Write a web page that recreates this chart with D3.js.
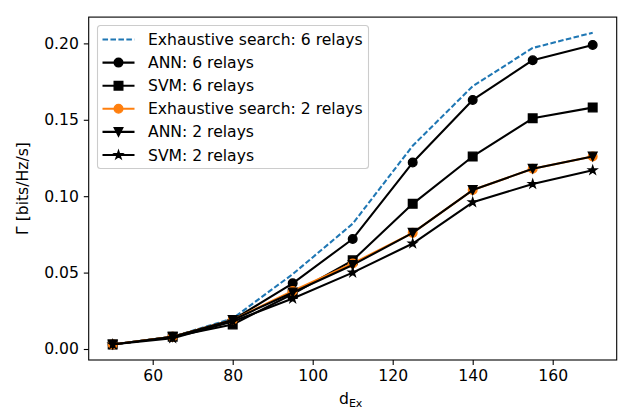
<!DOCTYPE html>
<html>
<head>
<meta charset="utf-8">
<script src="https://cdn.jsdelivr.net/npm/d3@7"></script>
<style>
  body { margin: 0; background: #fff; }
  svg { display: block; font-family: "DejaVu Sans", sans-serif; }
</style>
</head>
<body>
<svg id="chart" width="636" height="415"></svg>
<script>
const dEx = [50, 65, 80, 95, 110, 125, 140, 155, 170];
const exh6 = [0.003, 0.008, 0.020, 0.049, 0.082, 0.133, 0.172, 0.197, 0.207];
const ann6 = [0.003, 0.008, 0.019, 0.043, 0.072, 0.122, 0.163, 0.189, 0.199];
const svm6 = [0.003, 0.008, 0.016, 0.036, 0.058, 0.095, 0.126, 0.151, 0.158];
const exh2 = [0.003, 0.008, 0.019, 0.038, 0.056, 0.076, 0.104, 0.118, 0.126];
const ann2 = [0.003, 0.008, 0.019, 0.037, 0.055, 0.076, 0.104, 0.118, 0.126];
const svm2 = [0.003, 0.007, 0.018, 0.033, 0.050, 0.069, 0.096, 0.108, 0.117];
const xTicks = [60, 80, 100, 120, 140, 160];
const yTicks = [0.00, 0.05, 0.10, 0.15, 0.20];
const seriesNames = ["Exhaustive search: 6 relays", "ANN: 6 relays", "SVM: 6 relays",
  "Exhaustive search: 2 relays", "ANN: 2 relays", "SVM: 2 relays"];

const series = [
  {name: seriesNames[0], values: exh6, color: "#1f77b4", marker: null, dash: "5.55,2.4"},
  {name: seriesNames[1], values: ann6, color: "#000", marker: "circle"},
  {name: seriesNames[2], values: svm6, color: "#000", marker: "square"},
  {name: seriesNames[3], values: exh2, color: "#ff7f0e", marker: "circle"},
  {name: seriesNames[4], values: ann2, color: "#000", marker: "tridown"},
  {name: seriesNames[5], values: svm2, color: "#000", marker: "star"}
];

const FS = "15.6px";
const svg = d3.select("#chart");
const L = 88.7, R = 616.7, T = 17.1, B = 360;
const x = d3.scaleLinear().domain([44, 176]).range([L, R]);
const y = d3.scaleLinear().domain([-0.0072, 0.2172]).range([B, T]);

const ms = 8.6;
function markerPath(type) {
  const h = ms / 2;
  if (type === "circle") {
    const p = d3.path(); p.arc(0, 0, h, 0, 2 * Math.PI); p.closePath(); return p.toString();
  }
  if (type === "square") return `M${-h},${-h}H${h}V${h}H${-h}Z`;
  if (type === "tridown") return `M0,${h}L${-h},${-h}L${h},${-h}Z`;
  if (type === "star") {
    const pts = [];
    const inner = h * 0.381966;
    for (let i = 0; i < 10; i++) {
      const r = i % 2 === 0 ? h : inner;
      const a = -Math.PI / 2 + i * Math.PI / 5;
      pts.push([r * Math.cos(a), r * Math.sin(a)]);
    }
    return "M" + pts.map(p => p[0].toFixed(2) + "," + p[1].toFixed(2)).join("L") + "Z";
  }
  return "";
}

// axes
const xAxis = d3.axisBottom(x).tickValues(xTicks).tickSize(4.9).tickPadding(4.9).tickFormat(d3.format("d"));
const yAxis = d3.axisLeft(y).tickValues(yTicks).tickSize(4.9).tickPadding(4.9).tickFormat(d3.format(".2f"));

const gx = svg.append("g").attr("transform", `translate(0,${B})`).call(xAxis);
const gy = svg.append("g").attr("transform", `translate(${L},0)`).call(yAxis);
[gx, gy].forEach(g => {
  g.select(".domain").remove();
  g.selectAll(".tick line").attr("stroke", "#000").attr("stroke-width", 1.1);
  g.selectAll(".tick text").attr("fill", "#000").attr("font-size", FS).attr("font-family", "DejaVu Sans");
});

const line = d3.line().x((d, i) => x(dEx[i])).y(d => y(d));

const plot = svg.append("g");
series.forEach(s => {
  plot.append("path")
    .attr("d", line(s.values))
    .attr("fill", "none")
    .attr("stroke", s.color)
    .attr("stroke-width", 2.08)
    .attr("stroke-linejoin", "round")
    .attr("stroke-linecap", s.dash ? "butt" : "square")
    .attr("stroke-dasharray", s.dash || null);
  if (s.marker) {
    plot.selectAll(null).data(s.values).enter().append("path")
      .attr("d", markerPath(s.marker))
      .attr("transform", (d, i) => `translate(${x(dEx[i])},${y(d)})`)
      .attr("fill", s.color)
      .attr("stroke", s.color)
      .attr("stroke-width", 1.39);
  }
});

// frame
svg.append("rect").attr("x", L).attr("y", T).attr("width", R - L).attr("height", B - T)
  .attr("fill", "none").attr("stroke", "#000").attr("stroke-width", 1.1);

// axis labels
svg.append("text").attr("x", (L + R) / 2 - 2).attr("y", 404).attr("text-anchor", "middle")
  .attr("font-size", FS).attr("fill", "#000")
  .text("d")
  .append("tspan").attr("font-size", "11px").attr("dy", 3).text("Ex");

svg.append("text").attr("transform", `translate(28,${(T + B) / 2}) rotate(-90)`)
  .attr("text-anchor", "middle").attr("font-size", FS).attr("fill", "#000")
  .text("Γ [bits/Hz/s]");

// legend
const lg = svg.append("g").attr("transform", "translate(97.5,25.5)");
lg.append("rect").attr("width", 271).attr("height", 143).attr("rx", 3)
  .attr("fill", "#fff").attr("fill-opacity", 0.8).attr("stroke", "#ccc").attr("stroke-width", 1.1);
series.forEach((s, i) => {
  const cy = 14 + i * 23.1;
  lg.append("line").attr("x1", 5).attr("x2", 37).attr("y1", cy).attr("y2", cy)
    .attr("stroke", s.color).attr("stroke-width", 2.08)
    .attr("stroke-dasharray", s.dash || null);
  if (s.marker) {
    lg.append("path").attr("d", markerPath(s.marker)).attr("transform", `translate(21,${cy})`)
      .attr("fill", s.color).attr("stroke", s.color).attr("stroke-width", 1.39);
  }
  lg.append("text").attr("x", 50.5).attr("y", cy + 5.5).attr("font-size", FS).attr("fill", "#000")
    .text(s.name);
});
</script>
</body>
</html>
